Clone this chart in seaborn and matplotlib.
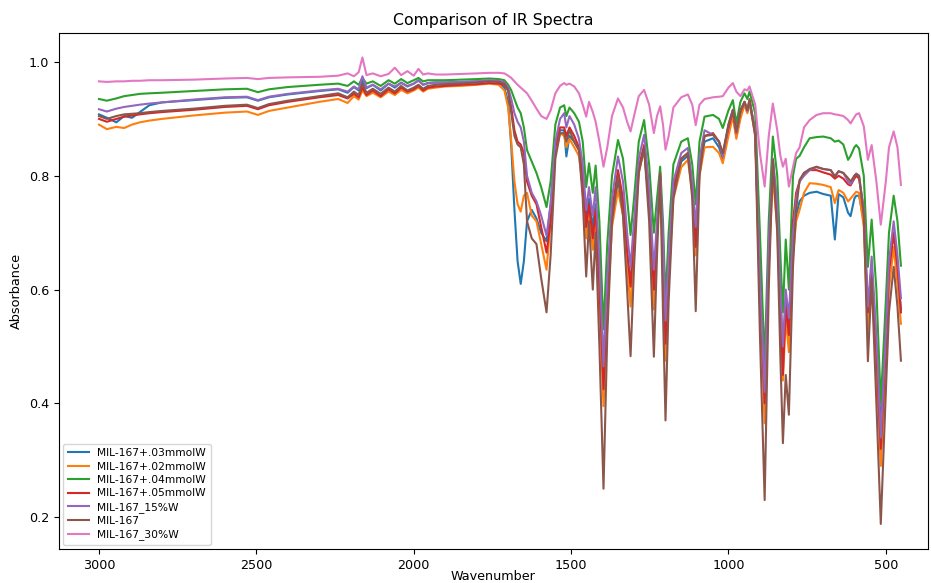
import matplotlib
matplotlib.use("Agg")
from matplotlib import pyplot as plt
import pandas as pd
import seaborn as sns

# wavenumber grid (cm-1), shared by all spectra
wavenumber = [
    3000, 2975, 2945, 2920, 2895, 2870, 2840, 2800, 2700, 2600,
    2530, 2495, 2460, 2400, 2300, 2240, 2210, 2190, 2175, 2163,
    2150, 2130, 2105, 2080, 2060, 2040, 2020, 2000, 1985, 1970,
    1955, 1930, 1900, 1850, 1800, 1760, 1730, 1712, 1700, 1690,
    1680, 1670, 1660, 1650, 1640, 1625, 1610, 1595, 1578, 1565,
    1550, 1535, 1522, 1515, 1505, 1490, 1475, 1463, 1452, 1443,
    1431, 1422, 1410, 1397, 1385, 1370, 1351, 1335, 1322, 1311,
    1300, 1285, 1268, 1252, 1237, 1227, 1217, 1208, 1200, 1190,
    1175, 1150, 1129, 1115, 1104, 1092, 1076, 1049, 1030, 1018,
    1000, 986, 975, 962, 949, 940, 933, 915, 900, 885,
    872, 859, 845, 835, 827, 818, 808, 795, 785, 774,
    760, 742, 720, 699, 675, 662, 650, 635, 620, 612,
    600, 594, 585, 570, 557, 545, 530, 516, 500, 490,
    475, 463, 452,
]

# absorbance of each sample
w03 = [
    0.908, 0.902, 0.894, 0.905, 0.902, 0.912, 0.924, 0.929, 0.933, 0.937,
    0.938, 0.932, 0.938, 0.943, 0.949, 0.952, 0.946, 0.956, 0.950, 0.968,
    0.954, 0.960, 0.950, 0.962, 0.955, 0.964, 0.957, 0.962, 0.968, 0.960,
    0.963, 0.964, 0.964, 0.965, 0.966, 0.967, 0.965, 0.955, 0.930, 0.850,
    0.740, 0.650, 0.610, 0.650, 0.720, 0.740, 0.725, 0.700, 0.685, 0.750,
    0.850, 0.880, 0.880, 0.834, 0.870, 0.860, 0.845, 0.800, 0.720, 0.760,
    0.710, 0.750, 0.640, 0.470, 0.610, 0.730, 0.790, 0.750, 0.660, 0.610,
    0.700, 0.810, 0.846, 0.750, 0.600, 0.700, 0.800, 0.670, 0.530, 0.640,
    0.770, 0.825, 0.835, 0.780, 0.680, 0.810, 0.860, 0.866, 0.850, 0.830,
    0.880, 0.905, 0.870, 0.905, 0.925, 0.912, 0.928, 0.875, 0.610, 0.430,
    0.660, 0.830, 0.740, 0.590, 0.480, 0.580, 0.540, 0.680, 0.730, 0.755,
    0.765, 0.770, 0.772, 0.768, 0.765, 0.688, 0.768, 0.762, 0.735, 0.729,
    0.760, 0.765, 0.765, 0.720, 0.560, 0.640, 0.500, 0.360, 0.520, 0.640,
    0.700, 0.640, 0.565,
]
w02 = [
    0.890, 0.882, 0.886, 0.884, 0.890, 0.894, 0.897, 0.900, 0.906, 0.911,
    0.913, 0.907, 0.914, 0.920, 0.930, 0.935, 0.928, 0.940, 0.934, 0.950,
    0.940, 0.946, 0.938, 0.948, 0.942, 0.951, 0.945, 0.950, 0.955, 0.948,
    0.953, 0.955, 0.957, 0.958, 0.960, 0.962, 0.960, 0.950, 0.920, 0.860,
    0.790, 0.750, 0.737, 0.765, 0.770, 0.730, 0.720, 0.680, 0.635, 0.720,
    0.840, 0.875, 0.870, 0.850, 0.865, 0.850, 0.835, 0.780, 0.690, 0.740,
    0.670, 0.720, 0.580, 0.395, 0.560, 0.710, 0.775, 0.730, 0.640, 0.570,
    0.680, 0.805, 0.846, 0.750, 0.565, 0.690, 0.793, 0.640, 0.475, 0.620,
    0.760, 0.815, 0.828, 0.770, 0.660, 0.800, 0.850, 0.851, 0.840, 0.822,
    0.870, 0.904, 0.865, 0.900, 0.925, 0.910, 0.930, 0.870, 0.580, 0.365,
    0.640, 0.800, 0.710, 0.550, 0.440, 0.550, 0.490, 0.660, 0.720, 0.740,
    0.770, 0.787, 0.786, 0.784, 0.780, 0.752, 0.775, 0.770, 0.755, 0.760,
    0.768, 0.772, 0.770, 0.710, 0.530, 0.620, 0.460, 0.290, 0.470, 0.600,
    0.675, 0.610, 0.540,
]
w04 = [
    0.935, 0.932, 0.936, 0.940, 0.942, 0.944, 0.945, 0.946, 0.949, 0.952,
    0.953, 0.947, 0.952, 0.956, 0.960, 0.962, 0.958, 0.966, 0.960, 0.972,
    0.962, 0.966, 0.958, 0.968, 0.962, 0.970, 0.963, 0.968, 0.972, 0.966,
    0.968, 0.968, 0.968, 0.969, 0.970, 0.971, 0.970, 0.968, 0.960, 0.950,
    0.935, 0.920, 0.910, 0.885, 0.845, 0.825, 0.805, 0.780, 0.745, 0.790,
    0.890, 0.920, 0.924, 0.905, 0.920, 0.910, 0.895, 0.860, 0.780, 0.822,
    0.770, 0.818, 0.720, 0.530, 0.680, 0.800, 0.863, 0.830, 0.760, 0.696,
    0.760, 0.860, 0.898, 0.820, 0.700, 0.760, 0.816, 0.720, 0.580, 0.700,
    0.820, 0.860, 0.866, 0.820, 0.750, 0.860, 0.904, 0.907, 0.900, 0.884,
    0.915, 0.933, 0.892, 0.930, 0.945, 0.935, 0.948, 0.910, 0.700, 0.470,
    0.720, 0.869, 0.800, 0.660, 0.560, 0.688, 0.600, 0.800, 0.830, 0.835,
    0.850, 0.866, 0.868, 0.869, 0.866, 0.860, 0.862, 0.855, 0.828, 0.835,
    0.850, 0.854, 0.848, 0.800, 0.640, 0.723, 0.600, 0.400, 0.580, 0.700,
    0.765, 0.720, 0.642,
]
w05 = [
    0.900, 0.895, 0.900, 0.904, 0.906, 0.908, 0.910, 0.912, 0.916, 0.921,
    0.923, 0.917, 0.924, 0.930, 0.938, 0.942, 0.936, 0.944, 0.938, 0.955,
    0.942, 0.950, 0.940, 0.952, 0.945, 0.955, 0.948, 0.952, 0.958, 0.950,
    0.955, 0.957, 0.958, 0.960, 0.961, 0.963, 0.962, 0.960, 0.950, 0.920,
    0.880, 0.860, 0.855, 0.840, 0.790, 0.765, 0.750, 0.710, 0.665, 0.720,
    0.850, 0.885, 0.885, 0.870, 0.885, 0.870, 0.850, 0.800, 0.710, 0.750,
    0.690, 0.740, 0.610, 0.425, 0.590, 0.740, 0.810, 0.760, 0.670, 0.605,
    0.700, 0.815, 0.854, 0.760, 0.600, 0.700, 0.800, 0.660, 0.505, 0.640,
    0.780, 0.830, 0.840, 0.780, 0.675, 0.820, 0.870, 0.875, 0.860, 0.837,
    0.885, 0.913, 0.875, 0.912, 0.930, 0.915, 0.932, 0.878, 0.600, 0.400,
    0.660, 0.815, 0.730, 0.570, 0.450, 0.570, 0.520, 0.720, 0.770, 0.790,
    0.805, 0.810, 0.810, 0.806, 0.802, 0.795, 0.800, 0.795, 0.785, 0.783,
    0.795, 0.800, 0.795, 0.740, 0.560, 0.640, 0.490, 0.320, 0.500, 0.630,
    0.700, 0.640, 0.560,
]
w15 = [
    0.917, 0.913, 0.918, 0.921, 0.923, 0.925, 0.927, 0.929, 0.934, 0.938,
    0.939, 0.933, 0.939, 0.944, 0.950, 0.953, 0.948, 0.957, 0.952, 0.975,
    0.955, 0.960, 0.952, 0.962, 0.957, 0.963, 0.958, 0.962, 0.967, 0.960,
    0.963, 0.964, 0.964, 0.965, 0.966, 0.968, 0.967, 0.965, 0.955, 0.935,
    0.910, 0.895, 0.885, 0.860, 0.800, 0.770, 0.755, 0.730, 0.695, 0.750,
    0.860, 0.900, 0.910, 0.885, 0.905, 0.890, 0.865, 0.820, 0.740, 0.780,
    0.730, 0.780, 0.650, 0.465, 0.620, 0.760, 0.834, 0.790, 0.700, 0.640,
    0.720, 0.830, 0.872, 0.780, 0.635, 0.720, 0.805, 0.690, 0.545, 0.660,
    0.790, 0.840, 0.849, 0.790, 0.710, 0.830, 0.880, 0.872, 0.860, 0.834,
    0.890, 0.916, 0.876, 0.915, 0.930, 0.915, 0.932, 0.880, 0.620, 0.420,
    0.680, 0.830, 0.750, 0.600, 0.500, 0.600, 0.550, 0.700, 0.760, 0.790,
    0.800, 0.810, 0.815, 0.812, 0.810, 0.800, 0.808, 0.805, 0.790, 0.785,
    0.800, 0.804, 0.800, 0.740, 0.570, 0.658, 0.520, 0.340, 0.520, 0.650,
    0.720, 0.660, 0.585,
]
w00 = [
    0.905, 0.900, 0.905, 0.908, 0.909, 0.910, 0.912, 0.914, 0.918, 0.923,
    0.925, 0.919, 0.926, 0.932, 0.940, 0.945, 0.938, 0.948, 0.942, 0.962,
    0.946, 0.953, 0.944, 0.955, 0.948, 0.958, 0.950, 0.955, 0.960, 0.953,
    0.958, 0.960, 0.961, 0.962, 0.964, 0.966, 0.965, 0.962, 0.950, 0.910,
    0.870, 0.855, 0.850, 0.820, 0.720, 0.690, 0.680, 0.620, 0.560, 0.660,
    0.830, 0.875, 0.875, 0.860, 0.880, 0.860, 0.845, 0.760, 0.623, 0.720,
    0.600, 0.700, 0.500, 0.250, 0.520, 0.720, 0.800, 0.730, 0.600, 0.483,
    0.640, 0.805, 0.849, 0.720, 0.482, 0.660, 0.805, 0.560, 0.370, 0.580,
    0.760, 0.830, 0.840, 0.760, 0.562, 0.800, 0.870, 0.872, 0.860, 0.840,
    0.890, 0.916, 0.878, 0.915, 0.930, 0.915, 0.935, 0.870, 0.520, 0.230,
    0.600, 0.828, 0.700, 0.480, 0.330, 0.450, 0.380, 0.640, 0.740, 0.793,
    0.805, 0.812, 0.816, 0.812, 0.810, 0.798, 0.808, 0.805, 0.796, 0.790,
    0.800, 0.803, 0.800, 0.730, 0.474, 0.620, 0.400, 0.188, 0.420, 0.560,
    0.640, 0.570, 0.475,
]
w30 = [
    0.966, 0.965, 0.966, 0.966, 0.967, 0.967, 0.968, 0.968, 0.969, 0.971,
    0.972, 0.970, 0.972, 0.973, 0.974, 0.976, 0.980, 0.975, 0.982, 1.008,
    0.977, 0.980, 0.975, 0.979, 0.990, 0.977, 0.984, 0.976, 0.988, 0.978,
    0.980, 0.978, 0.978, 0.979, 0.980, 0.981, 0.981, 0.980, 0.976, 0.972,
    0.966, 0.960, 0.955, 0.950, 0.945, 0.932, 0.918, 0.905, 0.900, 0.915,
    0.945, 0.958, 0.963, 0.960, 0.962, 0.957, 0.945, 0.925, 0.904, 0.930,
    0.912, 0.895, 0.860, 0.816, 0.850, 0.905, 0.936, 0.920, 0.895, 0.878,
    0.905, 0.940, 0.951, 0.925, 0.875, 0.905, 0.922, 0.890, 0.846, 0.870,
    0.920, 0.938, 0.943, 0.925, 0.889, 0.925, 0.935, 0.938, 0.939, 0.940,
    0.955, 0.963, 0.948, 0.940, 0.952, 0.950, 0.957, 0.925, 0.840, 0.781,
    0.870, 0.927, 0.880, 0.835, 0.816, 0.830, 0.781, 0.815, 0.840, 0.850,
    0.885, 0.898, 0.907, 0.910, 0.910, 0.908, 0.907, 0.905, 0.898, 0.892,
    0.903, 0.908, 0.910, 0.887, 0.828, 0.854, 0.790, 0.714, 0.790, 0.850,
    0.878, 0.850, 0.784,
]

labels = ["MIL-167+.03mmolW", "MIL-167+.02mmolW", "MIL-167+.04mmolW",
          "MIL-167+.05mmolW", "MIL-167_15%W", "MIL-167", "MIL-167_30%W"]
spectra = [w03, w02, w04, w05, w15, w00, w30]

frames = []
for name, vals in zip(labels, spectra):
    frames.append(pd.DataFrame({"Wavenumber": wavenumber, "Absorbance": vals, "sample": name}))
df = pd.concat(frames, ignore_index=True)

fig, ax = plt.subplots(figsize=(9.31, 5.83), dpi=100)
fig.subplots_adjust(left=59 / 931, right=928 / 931, top=1 - 33 / 583, bottom=1 - 549 / 583)

sns.lineplot(data=df, x="Wavenumber", y="Absorbance", hue="sample", hue_order=labels,
             palette=sns.color_palette("tab10", 7), estimator=None, sort=True,
             linewidth=1.5, ax=ax)

ax.set_xlim(3127, 366)
ax.set_ylim(0.144, 1.051)
ax.set_xticks([3000, 2500, 2000, 1500, 1000, 500])
ax.set_yticks([0.2, 0.4, 0.6, 0.8, 1.0])
ax.tick_params(labelsize=9.2)
ax.set_xlabel("Wavenumber", fontsize=9.2, labelpad=-1)
ax.set_ylabel("Absorbance", fontsize=9.3)
ax.set_title("Comparison of IR Spectra", fontsize=11.3)
ax.legend(loc="lower left", fontsize=7.7, title=None, labelspacing=0.32,
          handlelength=2.0, borderaxespad=0.4)

plt.savefig("out.png", dpi=100)
plt.close()
